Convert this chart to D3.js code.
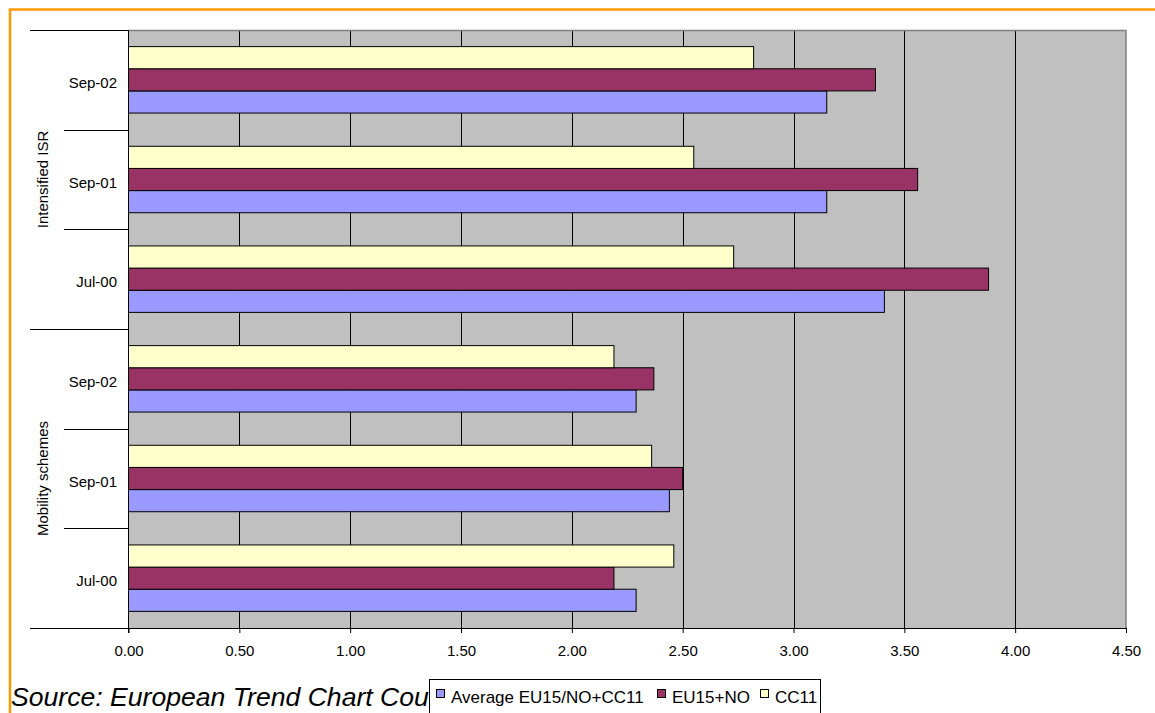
<!DOCTYPE html>
<html>
<head>
<meta charset="utf-8">
<script src="https://cdn.jsdelivr.net/npm/d3@7"></script>
<style>
  html, body { margin: 0; padding: 0; background: #fff; }
  svg { display: block; font-family: "Liberation Sans", Arial, sans-serif; }
</style>
</head>
<body>
<svg id="chart" width="1155" height="713"></svg>
<script>
// Categories, top to bottom: group + survey date
const groups = ["Intensified ISR", "Mobility schemes"];
const dates = ["Sep-02", "Sep-01", "Jul-00"];
const categories = [
  "Intensified ISR|Sep-02", "Intensified ISR|Sep-01", "Intensified ISR|Jul-00",
  "Mobility schemes|Sep-02", "Mobility schemes|Sep-01", "Mobility schemes|Jul-00"
];

// Series (same order as categories)
const seriesNames = ["Average EU15/NO+CC11", "EU15+NO", "CC11"];
const averageValues = [3.15, 3.15, 3.41, 2.29, 2.44, 2.29];
const eu15noValues  = [3.37, 3.56, 3.88, 2.37, 2.50, 2.19];
const cc11Values    = [2.82, 2.55, 2.73, 2.19, 2.36, 2.46];

const xTicks = [0, 0.5, 1, 1.5, 2, 2.5, 3, 3.5, 4, 4.5];

const colors = { "Average EU15/NO+CC11": "#9999FF", "EU15+NO": "#993366", "CC11": "#FFFFCC" };
const seriesValues = { "Average EU15/NO+CC11": averageValues, "EU15+NO": eu15noValues, "CC11": cc11Values };

const svg = d3.select("#chart");

// outer orange frame
svg.append("path")
  .attr("d", "M10,720 V9.5 H1160")
  .attr("fill", "none")
  .attr("stroke", "#FF9900")
  .attr("stroke-width", 2.5);

const plot = { left: 128.5, right: 1126, top: 30, bottom: 628 };

const x = d3.scaleLinear().domain([0, 4.5]).range([plot.left, plot.right]);
const y = d3.scaleBand().domain(categories).range([plot.top, plot.bottom]).padding(0);
const bw = y.bandwidth();
// bar order inside each band, top to bottom
const ySub = d3.scaleBand().domain(["CC11", "EU15+NO", "Average EU15/NO+CC11"])
  .range([bw / 6, bw - bw / 6]);

// plot background
svg.append("rect")
  .attr("x", plot.left).attr("y", plot.top)
  .attr("width", plot.right - plot.left).attr("height", plot.bottom - plot.top)
  .attr("fill", "#C0C0C0");

// vertical gridlines
svg.append("g").selectAll("line")
  .data(xTicks.filter(t => t > 0 && t < 4.5))
  .join("line")
  .attr("x1", d => Math.round(x(d)) + 0.5).attr("x2", d => Math.round(x(d)) + 0.5)
  .attr("y1", plot.top).attr("y2", plot.bottom)
  .attr("stroke", "#000").attr("stroke-width", 1);

// plot border (top and right)
svg.append("path")
  .attr("d", `M${plot.left},${plot.top + 0.5} H${plot.right} V${plot.bottom}`)
  .attr("fill", "none").attr("stroke", "#808080").attr("stroke-width", 1.5);

// bars
const rows = [];
categories.forEach((c, i) => {
  seriesNames.forEach(s => rows.push({ cat: c, series: s, value: seriesValues[s][i] }));
});
svg.append("g").selectAll("rect")
  .data(rows)
  .join("rect")
  .attr("x", x(0))
  .attr("y", d => y(d.cat) + ySub(d.series))
  .attr("width", d => x(d.value) - x(0))
  .attr("height", ySub.bandwidth())
  .attr("fill", d => colors[d.series])
  .attr("stroke", "#000")
  .attr("stroke-width", 1);

// x axis
const xAxis = d3.axisBottom(x).tickValues(xTicks).tickFormat(d3.format(".2f")).tickSize(5).tickPadding(12);
const gx = svg.append("g").attr("transform", `translate(0,${plot.bottom})`).call(xAxis);
gx.select(".domain").remove();
gx.selectAll(".tick line").attr("stroke", "#000");
gx.selectAll(".tick text").attr("font-size", 15).attr("fill", "#000")
  .attr("font-family", "'Liberation Sans', Arial, sans-serif");
svg.append("line")
  .attr("x1", 30).attr("x2", plot.right)
  .attr("y1", plot.bottom + 0.5).attr("y2", plot.bottom + 0.5)
  .attr("stroke", "#000");

// y axis line
svg.append("line")
  .attr("x1", plot.left).attr("x2", plot.left)
  .attr("y1", plot.top).attr("y2", plot.bottom + 5)
  .attr("stroke", "#000");

// category separators on the left axis
const boundaries = d3.range(categories.length + 1).map(i => plot.top + i * bw);
svg.append("g").selectAll("line")
  .data(boundaries)
  .join("line")
  .attr("x1", (d, i) => (i % 3 === 0) ? 30 : 64)
  .attr("x2", plot.left)
  .attr("y1", d => Math.round(d) + 0.5).attr("y2", d => Math.round(d) + 0.5)
  .attr("stroke", "#000");

// date labels
svg.append("g").selectAll("text")
  .data(categories)
  .join("text")
  .attr("x", 117)
  .attr("y", d => y(d) + bw / 2 + 8)
  .attr("text-anchor", "end")
  .attr("font-size", 15)
  .text(d => d.split("|")[1]);

// group labels (rotated)
svg.append("g").selectAll("text")
  .data(groups)
  .join("text")
  .attr("transform", (g, i) => {
    const cy = plot.top + (i * 3 + 1.5) * bw;
    return `translate(48,${cy}) rotate(-90)`;
  })
  .attr("text-anchor", "middle")
  .attr("font-size", 15)
  .text(d => d);

// source note (partly covered by the legend box)
svg.append("text")
  .attr("x", 11).attr("y", 706)
  .attr("font-size", 26.6)
  .attr("font-style", "italic")
  .text("Source: European Trend Chart Country Reports (September 2002)");

// legend
const legend = svg.append("g").attr("transform", "translate(429,679)");
legend.append("rect")
  .attr("x", 0.5).attr("y", 0.5).attr("width", 391).attr("height", 40)
  .attr("fill", "#fff").attr("stroke", "#000");
const legendX = [7, 228, 331];
seriesNames.forEach((s, i) => {
  const g = legend.append("g").attr("transform", `translate(${legendX[i]},0)`);
  g.append("rect").attr("x", 0.5).attr("y", 10.5).attr("width", 8).attr("height", 8)
    .attr("fill", colors[s]).attr("stroke", "#000");
  g.append("text").attr("x", 15).attr("y", 24).attr("font-size", 17).text(s);
});
</script>
</body>
</html>
